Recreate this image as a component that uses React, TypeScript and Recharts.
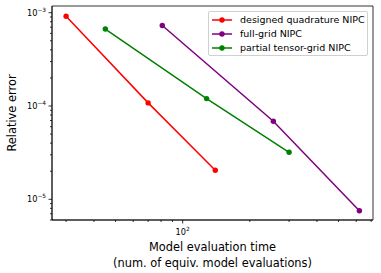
import React from "react";
import {
  Legend,
  Line,
  LineChart,
  ReferenceArea,
  XAxis,
  YAxis,
} from "recharts";

// values (log-log)
const designedX = [30, 70, 140];
const designedY = [9.15e-4, 1.08e-4, 2.05e-5];
const fullGridX = [81, 255, 620];
const fullGridY = [7.3e-4, 6.86e-5, 7.55e-6];
const partialX = [45, 128, 300];
const partialY = [6.68e-4, 1.2e-4, 3.19e-5];

const xMajor = [100];
const xMinor = [30, 40, 50, 60, 70, 80, 90, 200, 300, 400, 500, 600, 700];
const yMajor = [1e-3, 1e-4, 1e-5];
const yMinor = [
  6e-6, 7e-6, 8e-6, 9e-6, 2e-5, 3e-5, 4e-5, 5e-5, 6e-5, 7e-5, 8e-5, 9e-5, 2e-4,
  3e-4, 4e-4, 5e-4, 6e-4, 7e-4, 8e-4, 9e-4,
];

const xDomain = [25.94, 713.6];
const yDomain = [6.0e-6, 1.18e-3];

const series = [
  { name: "designed quadrature NIPC", color: "#ff0000", xs: designedX, ys: designedY },
  { name: "full-grid NIPC", color: "#800080", xs: fullGridX, ys: fullGridY },
  { name: "partial tensor-grid NIPC", color: "#008000", xs: partialX, ys: partialY },
];

const font = "DejaVu Sans, sans-serif";

const isMajor = (v: number, list: number[]) =>
  list.some((m) => Math.abs(m - v) / m < 1e-6);

const XTick = (props: any) => {
  const { x, y, payload } = props;
  const major = isMajor(payload.value, xMajor);
  const exp = Math.round(Math.log10(payload.value));
  return (
    <g>
      <line x1={x} x2={x} y1={y} y2={y + (major ? 3.5 : 2)} stroke="#000" strokeWidth={0.8} />
      {major && (
        <text x={x} y={y + 15} textAnchor="middle" fontFamily={font} fontSize={8.2} fill="#000">
          10
          <tspan dy={-4} fontSize={5.8}>{exp}</tspan>
        </text>
      )}
    </g>
  );
};

const YTick = (props: any) => {
  const { x, y, payload } = props;
  const major = isMajor(payload.value, yMajor);
  const exp = Math.round(Math.log10(payload.value));
  return (
    <g>
      <line x1={x} x2={x - (major ? 3.5 : 2)} y1={y} y2={y} stroke="#000" strokeWidth={0.8} />
      {major && (
        <text x={x - 6} y={y + 3} textAnchor="end" fontFamily={font} fontSize={8.2} fill="#000">
          10
          <tspan dy={-4} fontSize={5.8}>{"\u2212" + Math.abs(exp)}</tspan>
        </text>
      )}
    </g>
  );
};

const LegendBox = () => (
  <div
    style={{
      border: "1px solid #d0d0d0",
      borderRadius: 2,
      background: "rgba(255,255,255,0.8)",
      width: 160,
      height: 45,
      boxSizing: "border-box",
      fontFamily: font,
      fontSize: 9.5,
      color: "#000",
      position: "relative",
    }}
  >
    {series.map((s, i) => (
      <div
        key={s.name}
        style={{
          position: "absolute",
          left: 3,
          top: 8 + i * 14.2 - 6,
          height: 12,
          display: "flex",
          alignItems: "center",
          whiteSpace: "nowrap",
        }}
      >
        <svg width={20} height={12} style={{ marginRight: 8 }}>
          <line x1={0} x2={20} y1={6} y2={6} stroke={s.color} strokeWidth={1.5} />
          <circle cx={10} cy={6} r={2.7} fill={s.color} />
        </svg>
        {s.name}
      </div>
    ))}
  </div>
);

export default function App() {
  return (
    <div style={{ position: "absolute", left: 0, top: 0, width: 381, height: 273, background: "#fff" }}>
      <LineChart
        width={381}
        height={273}
        margin={{ top: 6, right: 8, left: 0, bottom: 0 }}
      >
        <XAxis
          type="number"
          dataKey="x"
          scale="log"
          domain={xDomain}
          allowDataOverflow
          ticks={[...xMinor, ...xMajor].sort((a, b) => a - b)}
          interval={0}
          tick={<XTick />}
          tickLine={false}
          tickSize={0}
          tickMargin={0}
          height={53}
          axisLine={{ stroke: "#000", strokeWidth: 0.8 }}
          label={{
            value: "Model evaluation time",
            position: "insideBottom",
            offset: 0,
            content: (p: any) => {
              const vb = p.viewBox;
              const cx = vb.x + vb.width / 2;
              return (
                <text textAnchor="middle" fontFamily={font} fontSize={11.4} fill="#000">
                  <tspan x={cx} y={250.5}>Model evaluation time</tspan>
                  <tspan x={cx} y={267}>(num. of equiv. model evaluations)</tspan>
                </text>
              );
            },
          }}
        />
        <YAxis
          type="number"
          dataKey="y"
          scale="log"
          domain={yDomain}
          allowDataOverflow
          ticks={[...yMinor, ...yMajor].sort((a, b) => a - b)}
          interval={0}
          tick={<YTick />}
          tickLine={false}
          tickSize={0}
          tickMargin={0}
          width={52}
          axisLine={{ stroke: "#000", strokeWidth: 0.8 }}
          label={{
            value: "Relative error",
            content: (p: any) => {
              const vb = p.viewBox;
              const cy = vb.y + vb.height / 2;
              return (
                <text
                  x={15.5}
                  y={cy}
                  transform={`rotate(-90 15.5 ${cy})`}
                  textAnchor="middle"
                  fontFamily={font}
                  fontSize={11.4}
                  fill="#000"
                >
                  Relative error
                </text>
              );
            },
          }}
        />
        <ReferenceArea
          x1={xDomain[0]}
          x2={xDomain[1]}
          y1={yDomain[0]}
          y2={yDomain[1]}
          fill="none"
          stroke="#000"
          strokeWidth={0.8}
          ifOverflow="visible"
        />
        {series.map((s) => (
          <Line
            key={s.name}
            name={s.name}
            data={s.xs.map((x, i) => ({ x, y: s.ys[i] }))}
            dataKey="y"
            stroke={s.color}
            strokeWidth={1.5}
            dot={{ r: 2.7, fill: s.color, stroke: s.color, strokeWidth: 0 }}
            activeDot={false}
            isAnimationActive={false}
          />
        ))}
        <Legend
          layout="vertical"
          align="center"
          verticalAlign="middle"
          content={() => <LegendBox />}
          wrapperStyle={{ position: "absolute", left: 208, top: 10.5, width: 160, height: 45 }}
        />
      </LineChart>
    </div>
  );
}
